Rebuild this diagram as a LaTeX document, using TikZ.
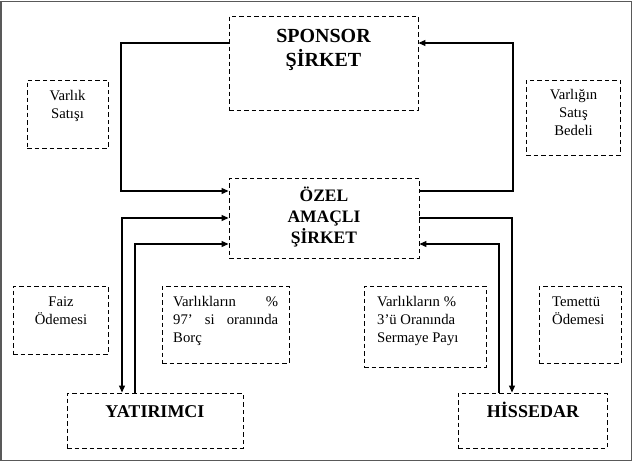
\documentclass[tikz,border=0pt]{standalone}
\usepackage{fontspec}
\setmainfont{Liberation Serif}
\usetikzlibrary{arrows.meta}
\begin{document}
\begin{tikzpicture}[x=1pt,y=-1pt,
  box/.style={draw, dash pattern=on 4.5pt off 3pt, line width=0.9pt, inner sep=0pt, rectangle},
  conn/.style={line width=1.1pt, -{Triangle[length=7pt,width=6pt]}},
  conn2/.style={line width=1.1pt, {Triangle[length=7pt,width=6pt]}-{Triangle[length=7pt,width=6pt]}},
  big/.style={font=\bfseries\fontsize{17.5}{21}\selectfont, align=center, anchor=base, inner sep=0pt},
  small/.style={font=\fontsize{14.7}{18}\selectfont, anchor=base, inner sep=0pt}]
\useasboundingbox (0,0) rectangle (635,469);
\draw[line width=1.5pt, black!65] (1,1.5) rectangle (631.5,460.5);

% boxes
\node[box, minimum width=189pt, minimum height=94pt] (sp) at (323.5,63) {};
\node[box, minimum width=190pt, minimum height=80pt] (oz) at (324,218) {};
\node[box, minimum width=81pt, minimum height=68pt] (vs) at (67.5,114) {};
\node[box, minimum width=94pt, minimum height=75pt] (vb) at (573,117.5) {};
\node[box, minimum width=95pt, minimum height=68pt] (fo) at (60.5,320) {};
\node[box, minimum width=127pt, minimum height=77pt] (vb97) at (225.5,324.5) {};
\node[box, minimum width=122pt, minimum height=81pt] (vb3) at (425,326.5) {};
\node[box, minimum width=82pt, minimum height=77pt] (to) at (580,324.5) {};
\node[box, minimum width=176pt, minimum height=55pt] (ya) at (155,420.5) {};
\node[box, minimum width=149pt, minimum height=55pt] (hi) at (532.5,420.5) {};

% texts (base anchor = baseline of last line)
\node[big, font=\bfseries\fontsize{20}{24}\selectfont] (spt) at (323.5,66) {SPONSOR\\ŞİRKET};
\node[big] (ozt) at (324,243) {ÖZEL\\AMAÇLI\\ŞİRKET};
\node[big, font=\bfseries\fontsize{18}{21}\selectfont] (yat) at (155,417) {YATIRIMCI};
\node[big, font=\bfseries\fontsize{18}{21}\selectfont] (hit) at (533,417) {HİSSEDAR};

\node[small, align=center] (t1) at (67.5,118.5) {Varlık\\Satışı};
\node[small, align=center] (t2) at (573.5,135.5) {Varlığın\\Satış\\Bedeli};
\node[small, align=center] (t3) at (61,324) {Faiz\\Ödemesi};
\node[small, anchor=base west] (t4) at (173,306) {\parbox[t]{105pt}{\makebox[105pt][s]{Varlıkların \%}\\\makebox[105pt][s]{97’ si oranında}\\Borç}};
\node[small, anchor=base west, align=left] (t5) at (377,342) {Varlıkların \%\\3’ü Oranında\\Sermaye Payı};
\node[small, anchor=base west, align=left] (t6) at (552,324) {Temettü\\Ödemesi};

% connectors
\coordinate (a1) at (121,43);
\coordinate (a2) at (121,191);
\draw[conn] (sp.west |- a1) -- (a1) -- (a2) -- (oz.west |- a2);
\coordinate (b1) at (513,191);
\coordinate (b2) at (513,43);
\draw[conn] (oz.east |- b1) -- (b1) -- (b2) -- (sp.east |- b2);
\coordinate (d1) at (122,218);
\draw[conn2] (oz.west |- d1) -- (d1) -- (d1 |- ya.north);
\coordinate (e1) at (135,244);
\draw[conn] (e1 |- ya.north) -- (e1) -- (oz.west |- e1);
\coordinate (f1) at (512,218);
\draw[conn] (oz.east |- f1) -- (f1) -- (f1 |- hi.north);
\coordinate (g1) at (499,244);
\draw[conn] (g1 |- hi.north) -- (g1) -- (oz.east |- g1);
\end{tikzpicture}
\end{document}
